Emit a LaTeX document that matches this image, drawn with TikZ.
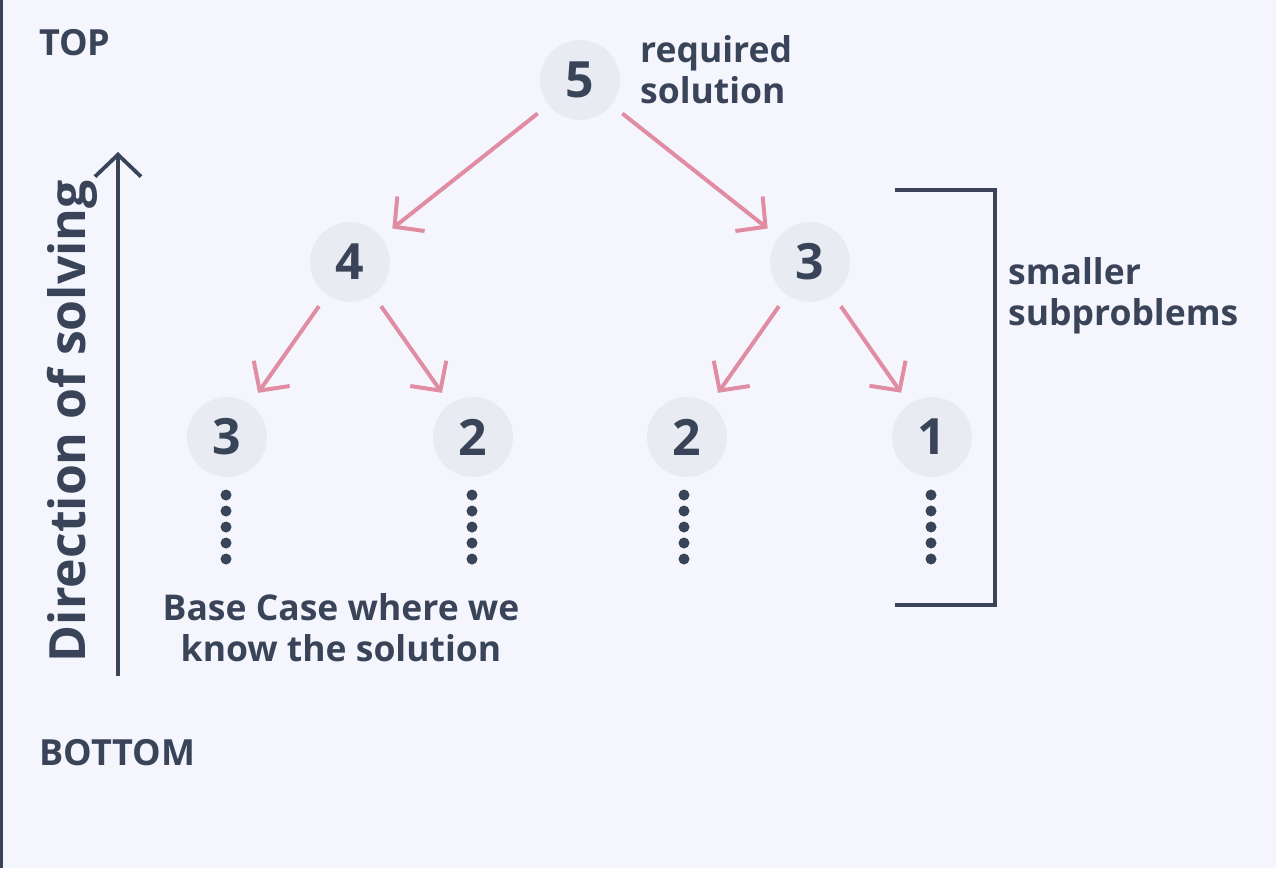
\documentclass[tikz,border=0pt]{standalone}
\usepackage{fontspec}
\setmainfont{Open Sans}
\usetikzlibrary{arrows.meta}
\definecolor{bg}{HTML}{F5F6FD}
\definecolor{ink}{HTML}{3A4459}
\definecolor{pinkline}{HTML}{E08DA4}
\definecolor{circ}{HTML}{E9EBF3}
\tikzset{
  num/.style={circle,fill=circ,minimum size=80pt,inner sep=0pt,outer sep=0pt,text=ink,font=\fontsize{50}{50}\selectfont\bfseries},
  edge/.style={draw=pinkline,line width=4pt,shorten <=14pt,shorten >=14pt,-{Straight Barb[length=21pt,width=44pt,line width=4pt]}},
  lbl/.style={text=ink,font=\fontsize{35.5}{41}\selectfont\bfseries,align=left,inner sep=0pt},
  darkline/.style={draw=ink,line width=3.8pt},
  dotfill/.style={fill=ink}
}
\begin{document}
\begin{tikzpicture}[x=1pt,y=-1pt]
\fill[bg] (0,0) rectangle (1276,868);
\useasboundingbox (0,0) rectangle (1276,868);
\fill[ink] (0,0) rectangle (2.5,868);
% tree nodes
\node[num] (n5) at (580,80) {5};
\node[num] (n4) at (350,262) {4};
\node[num] (n3) at (810,262) {3};
\node[num] (a) at (227,437) {3};
\node[num] (b) at (473,437) {2};
\node[num] (c) at (687,437) {2};
\node[num] (d) at (932,437) {1};
% edges
\draw[edge] (n5) -- (n4);
\draw[edge] (n5) -- (n3);
\draw[edge] (n4) -- (a);
\draw[edge] (n4) -- (b);
\draw[edge] (n3) -- (c);
\draw[edge] (n3) -- (d);
% dots
\foreach \x in {226,472,684,931}{
  \foreach \y in {495,511,527,543,559}{
    \fill[dotfill] (\x,\y) circle (5.5pt);
  }
}
% labels
\node[lbl,anchor=west] (req) at (640,70) {required\\solution};
\node[lbl,anchor=west] (sub) at (1008,296) {smaller\\subproblems};
\node[lbl,align=center] (base) at (341,628) {Base Case where we\\know the solution};
\node[text=ink,font=\fontsize{36}{36}\selectfont\bfseries,anchor=west,inner sep=0pt] (top) at (39,43) {TOP};
\node[text=ink,font=\fontsize{36}{36}\selectfont\bfseries,anchor=west,inner sep=0pt] (bottom) at (39,753) {BOTTOM};
% bracket
\coordinate (bt) at (895,190);
\coordinate (bb) at (895,605);
\draw[darkline] (bt) -- (995,190) -- (995,605) -- (bb);
% direction arrow
\coordinate (dirlow) at (118,676);
\coordinate (dirhigh) at (118,152);
\draw[darkline,-{Straight Barb[length=22pt,width=46pt,line width=3.8pt]}] (dirlow) -- (dirhigh);
\node[text=ink,font=\fontsize{50}{50}\selectfont\bfseries,rotate=90,anchor=base,inner sep=0pt] (dir) at (85,421) {Direction of solving};
\end{tikzpicture}
\end{document}
